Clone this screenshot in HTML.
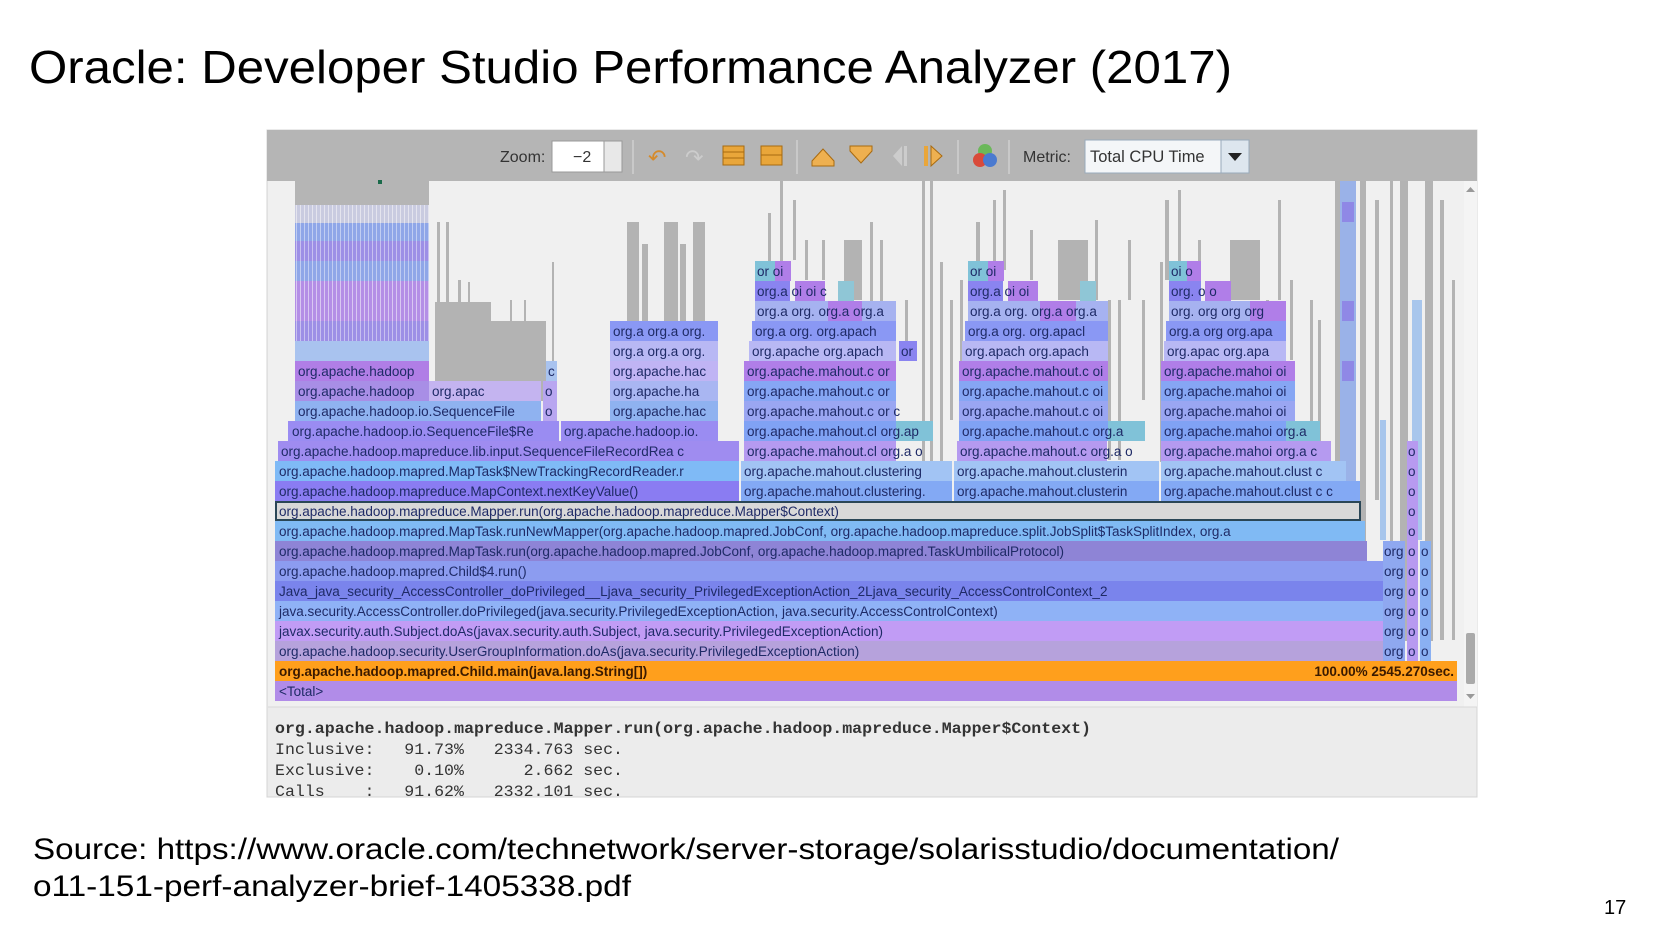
<!DOCTYPE html>
<html><head><meta charset="utf-8"><style>
html,body{margin:0;padding:0;background:#fff;}
svg{display:block;}
.t{font-family:"Liberation Sans",sans-serif;font-size:13.5px;fill:#1e2a66;}
.m{font-family:"Liberation Mono",monospace;font-size:16px;fill:#333;}
</style></head><body>
<svg width="1654" height="931" viewBox="0 0 1654 931" xmlns="http://www.w3.org/2000/svg">
<defs>
<pattern id="st" width="4" height="10" patternUnits="userSpaceOnUse"><rect width="4" height="10" fill="#9d8fe6"/><rect width="1" height="10" fill="#c8c0f0"/></pattern>
<pattern id="st2" width="4" height="10" patternUnits="userSpaceOnUse"><rect width="4" height="10" fill="#b48ee6"/><rect width="1" height="10" fill="#d9c7f2"/></pattern>
<pattern id="st3" width="4" height="10" patternUnits="userSpaceOnUse"><rect width="4" height="10" fill="#c9cbe0"/><rect width="1" height="10" fill="#e4e4ee"/></pattern>
<pattern id="st4" width="4" height="10" patternUnits="userSpaceOnUse"><rect width="4" height="10" fill="#8fa6e8"/><rect width="1" height="10" fill="#c0cdf2"/></pattern>
</defs>
<text x="29" y="83" font-family="Liberation Sans, sans-serif" font-size="46" fill="#000" textLength="1203" lengthAdjust="spacingAndGlyphs">Oracle: Developer Studio Performance Analyzer (2017)</text>

<rect x="267" y="130" width="1210" height="667" fill="#ececec" stroke="#d4d4d4"/>
<rect x="267" y="130" width="1210" height="51" fill="#b5b5b5"/>
<text x="500" y="162" font-family="Liberation Sans,sans-serif" font-size="16" fill="#333">Zoom:</text>
<rect x="552" y="141" width="70" height="31" fill="#fff" stroke="#999"/>
<rect x="604" y="141" width="18" height="31" fill="#e8e8e8" stroke="#999"/>
<text x="573" y="162" font-family="Liberation Sans,sans-serif" font-size="16" fill="#333">−2</text>
<line x1="633" y1="140" x2="633" y2="174" stroke="#ddd"/>
<text x="648" y="165" font-family="DejaVu Sans,sans-serif" font-size="22" fill="#d58a2a">↶</text>
<text x="685" y="165" font-family="DejaVu Sans,sans-serif" font-size="22" fill="#ccc">↷</text>
<g fill="#e9a63a" stroke="#a86a10" stroke-width="1"><rect x="723" y="146" width="21" height="19"/><rect x="761" y="146" width="21" height="19"/></g>
<g stroke="#a86a10"><line x1="723" y1="152" x2="744" y2="152"/><line x1="723" y1="158" x2="744" y2="158"/><line x1="761" y1="155" x2="782" y2="155"/></g>
<line x1="797" y1="140" x2="797" y2="174" stroke="#ddd"/>
<path d="M812 166h22v-5l-11-12-11 12z" fill="#eeb050" stroke="#a86a10"/>
<path d="M850 146h22v5l-11 12-11-12z" fill="#eeb050" stroke="#a86a10"/>
<path d="M902 146v20l-9-10z" fill="#ccc"/><rect x="904" y="146" width="3" height="20" fill="#ccc"/>
<rect x="924" y="146" width="4" height="20" fill="#e9a63a"/><path d="M931 146v20l11-10z" fill="#eeb050" stroke="#a86a10"/>
<line x1="958" y1="140" x2="958" y2="174" stroke="#ddd"/>
<circle cx="985" cy="151" r="7" fill="#6bb85a"/><circle cx="980" cy="160" r="7" fill="#d94a3a"/><circle cx="990" cy="160" r="7" fill="#4a7ad0"/>
<line x1="1009" y1="140" x2="1009" y2="174" stroke="#ddd"/>
<text x="1023" y="162" font-family="Liberation Sans,sans-serif" font-size="16" fill="#333">Metric:</text>
<rect x="1085" y="140" width="136" height="33" fill="#f4f6f8" stroke="#9ab"/>
<text x="1090" y="162" font-family="Liberation Sans,sans-serif" font-size="16.5" fill="#333">Total CPU Time</text>
<rect x="1221" y="140" width="28" height="33" fill="#dde6ee" stroke="#9ab"/>
<path d="M1228 153h14l-7 8z" fill="#222"/>

<rect x="268" y="181" width="1196" height="526" fill="#f0f0f0"/>
<rect x="1464" y="181" width="13" height="526" fill="#f4f4f4"/>
<path d="M1466 192h9l-4.5-5z" fill="#999"/><path d="M1466 694h9l-4.5 5z" fill="#999"/>
<rect x="1466" y="633" width="9" height="51" fill="#aaa" rx="2"/>

<rect x="295" y="181" width="134" height="200" fill="#b5b5b5"/>
<rect x="295" y="205" width="134" height="18" fill="url(#st3)"/>
<rect x="295" y="223" width="134" height="18" fill="url(#st4)"/>
<rect x="295" y="241" width="134" height="20" fill="url(#st)"/>
<rect x="295" y="261" width="134" height="20" fill="url(#st4)"/>
<rect x="295" y="281" width="134" height="20" fill="url(#st2)"/>
<rect x="295" y="301" width="134" height="20" fill="url(#st2)"/>
<rect x="295" y="321" width="134" height="20" fill="url(#st)"/>
<rect x="295" y="341" width="134" height="20" fill="#a9c3ef"/>
<rect x="378" y="180" width="4" height="4" fill="#1a6a4a"/>
<g fill="#b3b3b3">
<rect x="435" y="302" width="56" height="99"/><rect x="490" y="321" width="56" height="80"/>
<rect x="437" y="222" width="3" height="80"/><rect x="446" y="222" width="3" height="80"/><rect x="458" y="280" width="3" height="30"/><rect x="468" y="282" width="2" height="30"/>
<rect x="510" y="300" width="2" height="30"/><rect x="524" y="300" width="2" height="30"/><rect x="552" y="262" width="2" height="120"/>
<rect x="627" y="222" width="12" height="102"/><rect x="642" y="244" width="6" height="80"/><rect x="664" y="222" width="14" height="102"/><rect x="680" y="244" width="6" height="80"/><rect x="693" y="222" width="12" height="102"/>
<rect x="768" y="213" width="3" height="50"/><rect x="780" y="181" width="3" height="80"/><rect x="793" y="200" width="3" height="60"/><rect x="805" y="240" width="3" height="40"/><rect x="822" y="240" width="3" height="40"/>
<rect x="844" y="240" width="18" height="60"/><rect x="870" y="222" width="3" height="100"/><rect x="880" y="240" width="3" height="80"/><rect x="905" y="300" width="3" height="60"/><rect x="922" y="181" width="3" height="290"/><rect x="930" y="181" width="3" height="290"/>
<rect x="940" y="262" width="3" height="200"/><rect x="950" y="300" width="3" height="120"/><rect x="960" y="280" width="3" height="100"/>
<rect x="976" y="222" width="4" height="60"/><rect x="993" y="200" width="3" height="80"/><rect x="1003" y="190" width="3" height="80"/><rect x="1030" y="230" width="3" height="50"/>
<rect x="1058" y="240" width="30" height="60"/><rect x="1095" y="220" width="3" height="80"/><rect x="1108" y="300" width="3" height="160"/><rect x="1118" y="300" width="3" height="160"/>
<rect x="1128" y="240" width="3" height="60"/><rect x="1142" y="300" width="3" height="100"/><rect x="1160" y="262" width="3" height="200"/>
<rect x="1165" y="200" width="4" height="80"/><rect x="1178" y="190" width="3" height="80"/><rect x="1188" y="262" width="3" height="40"/><rect x="1198" y="240" width="3" height="60"/>
<rect x="1230" y="240" width="30" height="60"/><rect x="1266" y="300" width="3" height="160"/><rect x="1278" y="200" width="3" height="100"/><rect x="1290" y="280" width="3" height="80"/>
<rect x="1310" y="300" width="3" height="200"/><rect x="1318" y="320" width="3" height="180"/>
<rect x="1335" y="181" width="6" height="320"/><rect x="1345" y="181" width="4" height="320"/><rect x="1360" y="181" width="6" height="360"/><rect x="1375" y="200" width="4" height="300"/>
<rect x="1390" y="181" width="3" height="460"/><rect x="1400" y="181" width="8" height="460"/><rect x="1425" y="181" width="8" height="460"/><rect x="1440" y="200" width="4" height="440"/><rect x="1452" y="280" width="3" height="360"/>
</g>
<g fill="#9ab2e8"><rect x="1340" y="181" width="16" height="360"/></g>
<g fill="#8f88e6"><rect x="1342" y="202" width="12" height="20"/><rect x="1342" y="301" width="12" height="20"/><rect x="1342" y="361" width="12" height="20"/></g>
<g fill="#a8c6ec"><rect x="1412" y="300" width="10" height="240"/><rect x="1380" y="420" width="6" height="120"/></g>

<rect x="275" y="681" width="1182" height="20" fill="#b18ce8"/>
<text class="t" x="279" y="696" fill="#222">&lt;Total&gt;</text>
<rect x="275" y="661" width="1182" height="20" fill="#ff9f1c"/>
<text class="t" x="279" y="676" font-weight="bold" style="fill:#3a1a00">org.apache.hadoop.mapred.Child.main(java.lang.String[])</text>
<text class="t" x="1454" y="676" text-anchor="end" font-weight="bold" style="fill:#3a1a00">100.00%  2545.270sec.</text>

<rect x="275" y="641" width="1108" height="20" fill="#b6a2dc"/>
<text class="t" x="279" y="656">org.apache.hadoop.security.UserGroupInformation.doAs(java.security.PrivilegedExceptionAction)</text>
<rect x="275" y="621" width="1108" height="20" fill="#c19cf5"/>
<text class="t" x="279" y="636">javax.security.auth.Subject.doAs(javax.security.auth.Subject, java.security.PrivilegedExceptionAction)</text>
<rect x="275" y="601" width="1108" height="20" fill="#8fb2f6"/>
<text class="t" x="279" y="616">java.security.AccessController.doPrivileged(java.security.PrivilegedExceptionAction, java.security.AccessControlContext)</text>
<rect x="275" y="581" width="1108" height="20" fill="#7a84ec"/>
<text class="t" x="279" y="596">Java_java_security_AccessController_doPrivileged__Ljava_security_PrivilegedExceptionAction_2Ljava_security_AccessControlContext_2</text>
<rect x="275" y="561" width="1108" height="20" fill="#8c9cf0"/>
<text class="t" x="279" y="576">org.apache.hadoop.mapred.Child$4.run()</text>
<rect x="275" y="541" width="1092" height="20" fill="#8e84d6"/>
<text class="t" x="279" y="556">org.apache.hadoop.mapred.MapTask.run(org.apache.hadoop.mapred.JobConf, org.apache.hadoop.mapred.TaskUmbilicalProtocol)</text>
<rect x="275" y="521" width="1090" height="20" fill="#80baf4"/>
<text class="t" x="279" y="536">org.apache.hadoop.mapred.MapTask.runNewMapper(org.apache.hadoop.mapred.JobConf, org.apache.hadoop.mapreduce.split.JobSplit$TaskSplitIndex, org.a</text>
<rect x="276" y="502" width="1084" height="18" fill="#d8d8d8" stroke="#2a4656" stroke-width="2"/>
<text class="t" x="279" y="516">org.apache.hadoop.mapreduce.Mapper.run(org.apache.hadoop.mapreduce.Mapper$Context)</text>

<g>
<rect x="1383" y="541" width="22" height="120" fill="#8fa8f0"/>
<rect x="1407" y="541" width="11" height="120" fill="#b79af0"/>
<rect x="1420" y="541" width="11" height="120" fill="#8ab0f2"/>
<rect x="1407" y="441" width="11" height="100" fill="#b79af0"/>
<text class="t" x="1384" y="556">org</text><text class="t" x="1384" y="576">org</text><text class="t" x="1384" y="596">org</text><text class="t" x="1384" y="616">org</text><text class="t" x="1384" y="636">org</text><text class="t" x="1384" y="656">org</text>
<text class="t" x="1408" y="556">o</text><text class="t" x="1408" y="576">o</text><text class="t" x="1408" y="596">o</text><text class="t" x="1408" y="616">o</text><text class="t" x="1408" y="636">o</text><text class="t" x="1408" y="656">o</text>
<text class="t" x="1421" y="556">o</text><text class="t" x="1421" y="576">o</text><text class="t" x="1421" y="596">o</text><text class="t" x="1421" y="616">o</text><text class="t" x="1421" y="636">o</text><text class="t" x="1421" y="656">o</text>
<text class="t" x="1408" y="456">o</text><text class="t" x="1408" y="476">o</text><text class="t" x="1408" y="496">o</text><text class="t" x="1408" y="516">o</text><text class="t" x="1408" y="536">o</text>
</g>

<rect x="275" y="481" width="464" height="20" fill="#8a7cf2"/><text class="t" x="279" y="496">org.apache.hadoop.mapreduce.MapContext.nextKeyValue()</text>
<rect x="741" y="481" width="211" height="20" fill="#83a9f4"/><text class="t" x="744" y="496">org.apache.mahout.clustering.</text>
<rect x="954" y="481" width="205" height="20" fill="#83a9f4"/><text class="t" x="957" y="496">org.apache.mahout.clusterin</text>
<rect x="1161" y="481" width="199" height="20" fill="#83a9f4"/><text class="t" x="1164" y="496">org.apache.mahout.clust c c</text>
<rect x="275" y="461" width="464" height="20" fill="#7fbaf6"/><text class="t" x="279" y="476">org.apache.hadoop.mapred.MapTask$NewTrackingRecordReader.r</text>
<rect x="741" y="461" width="211" height="20" fill="#a2c4f4"/><text class="t" x="744" y="476">org.apache.mahout.clustering</text>
<rect x="954" y="461" width="205" height="20" fill="#a2c4f4"/><text class="t" x="957" y="476">org.apache.mahout.clusterin</text>
<rect x="1161" y="461" width="185" height="20" fill="#a2c4f4"/><text class="t" x="1164" y="476">org.apache.mahout.clust c</text>
<rect x="278" y="441" width="461" height="20" fill="#9f8cf0"/><text class="t" x="281" y="456">org.apache.hadoop.mapreduce.lib.input.SequenceFileRecordRea c</text>
<rect x="744" y="441" width="152" height="20" fill="#b59af0"/><text class="t" x="747" y="456">org.apache.mahout.cl org.a o</text>
<rect x="957" y="441" width="150" height="20" fill="#b59af0"/><text class="t" x="960" y="456">org.apache.mahout.c org.a o</text>
<rect x="1161" y="441" width="170" height="20" fill="#b59af0"/><text class="t" x="1164" y="456">org.apache.mahoi org.a c</text>
<rect x="288" y="421" width="271" height="20" fill="#9a8cf2"/><text class="t" x="292" y="436">org.apache.hadoop.io.SequenceFile$Re</text>
<rect x="561" y="421" width="157" height="20" fill="#9a8cf2"/><text class="t" x="564" y="436">org.apache.hadoop.io.</text>
<rect x="744" y="421" width="152" height="20" fill="#80a2f4"/><rect x="896" y="421" width="37" height="20" fill="#80c2d8"/><text class="t" x="747" y="436">org.apache.mahout.cl org.ap</text>
<rect x="959" y="421" width="149" height="20" fill="#80a2f4"/><rect x="1108" y="421" width="37" height="20" fill="#80c2d8"/><text class="t" x="962" y="436">org.apache.mahout.c org.a</text>
<rect x="1161" y="421" width="125" height="20" fill="#80a2f4"/><rect x="1286" y="421" width="34" height="20" fill="#80c2d8"/><text class="t" x="1164" y="436">org.apache.mahoi org.a</text>
<rect x="295" y="401" width="246" height="20" fill="#8fb2f0"/><text class="t" x="298" y="416">org.apache.hadoop.io.SequenceFile</text>
<rect x="543" y="401" width="14" height="20" fill="#b8a6f0"/><text class="t" x="545" y="416">o</text>
<rect x="610" y="401" width="108" height="20" fill="#8fb2f0"/><text class="t" x="613" y="416">org.apache.hac</text>
<rect x="744" y="401" width="152" height="20" fill="#9aa6f2"/><text class="t" x="747" y="416">org.apache.mahout.c or c</text>
<rect x="959" y="401" width="149" height="20" fill="#9aa6f2"/><text class="t" x="962" y="416">org.apache.mahout.c oi</text>
<rect x="1161" y="401" width="134" height="20" fill="#9aa6f2"/><text class="t" x="1164" y="416">org.apache.mahoi oi</text>
<rect x="295" y="381" width="134" height="20" fill="#a88ee6"/><text class="t" x="298" y="396">org.apache.hadoop</text>
<rect x="429" y="381" width="112" height="20" fill="#c4b4f0"/><text class="t" x="432" y="396">org.apac</text>
<rect x="543" y="381" width="14" height="20" fill="#b8a6f0"/><text class="t" x="545" y="396">o</text>
<rect x="610" y="381" width="108" height="20" fill="#a9b6f2"/><text class="t" x="613" y="396">org.apache.ha</text>
<rect x="744" y="381" width="152" height="20" fill="#86a6f4"/><text class="t" x="747" y="396">org.apache.mahout.c or</text>
<rect x="959" y="381" width="149" height="20" fill="#86a6f4"/><text class="t" x="962" y="396">org.apache.mahout.c oi</text>
<rect x="1161" y="381" width="134" height="20" fill="#86a6f4"/><text class="t" x="1164" y="396">org.apache.mahoi oi</text>
<rect x="295" y="361" width="134" height="20" fill="#b07ee6"/><text class="t" x="298" y="376">org.apache.hadoop</text>
<rect x="546" y="361" width="11" height="20" fill="#a9c3ef"/><text class="t" x="548" y="376">c</text>
<rect x="610" y="361" width="108" height="20" fill="#c0b4f4"/><text class="t" x="613" y="376">org.apache.hac</text>
<rect x="744" y="361" width="152" height="20" fill="#b07ee8"/><text class="t" x="747" y="376">org.apache.mahout.c or</text>
<rect x="959" y="361" width="149" height="20" fill="#b07ee8"/><text class="t" x="962" y="376">org.apache.mahout.c oi</text>
<rect x="1161" y="361" width="134" height="20" fill="#b07ee8"/><text class="t" x="1164" y="376">org.apache.mahoi oi</text>
<rect x="610" y="341" width="108" height="20" fill="#b8b8f4"/><text class="t" x="613" y="356">org.a org.a org.</text>
<rect x="749" y="341" width="147" height="20" fill="#b8b8f4"/><text class="t" x="752" y="356">org.apache org.apach</text>
<rect x="899" y="341" width="18" height="20" fill="#8a84f0"/><text class="t" x="901" y="356">or</text>
<rect x="962" y="341" width="146" height="20" fill="#b8b8f4"/><text class="t" x="965" y="356">org.apach org.apach</text>
<rect x="1164" y="341" width="122" height="20" fill="#b8b8f4"/><text class="t" x="1167" y="356">org.apac org.apa</text>
<rect x="610" y="321" width="108" height="20" fill="#8a98f4"/><text class="t" x="613" y="336">org.a org.a org.</text>
<rect x="752" y="321" width="144" height="20" fill="#8a98f4"/><text class="t" x="755" y="336">org.a org. org.apach</text>
<rect x="965" y="321" width="143" height="20" fill="#8a98f4"/><text class="t" x="968" y="336">org.a org. org.apacl</text>
<rect x="1166" y="321" width="120" height="20" fill="#8a98f4"/><text class="t" x="1169" y="336">org.a org org.apa</text>
<rect x="755" y="301" width="141" height="20" fill="#a6b2f0"/><rect x="828" y="301" width="34" height="20" fill="#b07ee8"/><text class="t" x="757" y="316">org.a org. org.a org.a</text>
<rect x="968" y="301" width="140" height="20" fill="#a6b2f0"/><rect x="1040" y="301" width="36" height="20" fill="#b07ee8"/><text class="t" x="970" y="316">org.a org. org.a org.a</text>
<rect x="1169" y="301" width="117" height="20" fill="#a6b2f0"/><rect x="1250" y="301" width="36" height="20" fill="#b07ee8"/><text class="t" x="1171" y="316">org. org org org</text>
<rect x="755" y="281" width="35" height="20" fill="#8a84f0"/><rect x="795" y="281" width="30" height="20" fill="#b07ee8"/><rect x="838" y="281" width="16" height="20" fill="#8fc6d6"/><text class="t" x="757" y="296">org.a  oi oi   c</text>
<rect x="968" y="281" width="35" height="20" fill="#8a84f0"/><rect x="1008" y="281" width="30" height="20" fill="#b07ee8"/><rect x="1080" y="281" width="16" height="20" fill="#8fc6d6"/><text class="t" x="970" y="296">org.a  oi oi</text>
<rect x="1169" y="281" width="32" height="20" fill="#8a84f0"/><rect x="1205" y="281" width="26" height="20" fill="#b07ee8"/><text class="t" x="1171" y="296">org. o o</text>
<rect x="755" y="261" width="20" height="20" fill="#80c2d8"/><rect x="775" y="261" width="16" height="20" fill="#b07ee8"/><text class="t" x="757" y="276">or oi</text>
<rect x="968" y="261" width="20" height="20" fill="#80c2d8"/><rect x="988" y="261" width="16" height="20" fill="#b07ee8"/><text class="t" x="970" y="276">or oi</text>
<rect x="1169" y="261" width="18" height="20" fill="#80c2d8"/><rect x="1187" y="261" width="14" height="20" fill="#b07ee8"/><text class="t" x="1171" y="276">oi o</text>

<line x1="268" y1="707" x2="1477" y2="707" stroke="#d8d8d8"/>
<text class="m" x="275" y="733" font-weight="bold" textLength="816" lengthAdjust="spacingAndGlyphs">org.apache.hadoop.mapreduce.Mapper.run(org.apache.hadoop.mapreduce.Mapper$Context)</text>
<text class="m" x="275" y="754" xml:space="preserve" textLength="348" lengthAdjust="spacingAndGlyphs">Inclusive:   91.73%   2334.763 sec.</text>
<text class="m" x="275" y="775" xml:space="preserve" textLength="348" lengthAdjust="spacingAndGlyphs">Exclusive:    0.10%      2.662 sec.</text>
<text class="m" x="275" y="796" xml:space="preserve" textLength="348" lengthAdjust="spacingAndGlyphs">Calls    :   91.62%   2332.101 sec.</text>

<text x="33" y="859" font-family="Liberation Sans,sans-serif" font-size="30" fill="#000" textLength="1306" lengthAdjust="spacingAndGlyphs">Source: https://www.oracle.com/technetwork/server-storage/solarisstudio/documentation/</text>
<text x="33" y="896" font-family="Liberation Sans,sans-serif" font-size="30" fill="#000" textLength="598" lengthAdjust="spacingAndGlyphs">o11-151-perf-analyzer-brief-1405338.pdf</text>
<text x="1604" y="914" font-family="Liberation Sans,sans-serif" font-size="20" fill="#000">17</text>
</svg>
</body></html>
